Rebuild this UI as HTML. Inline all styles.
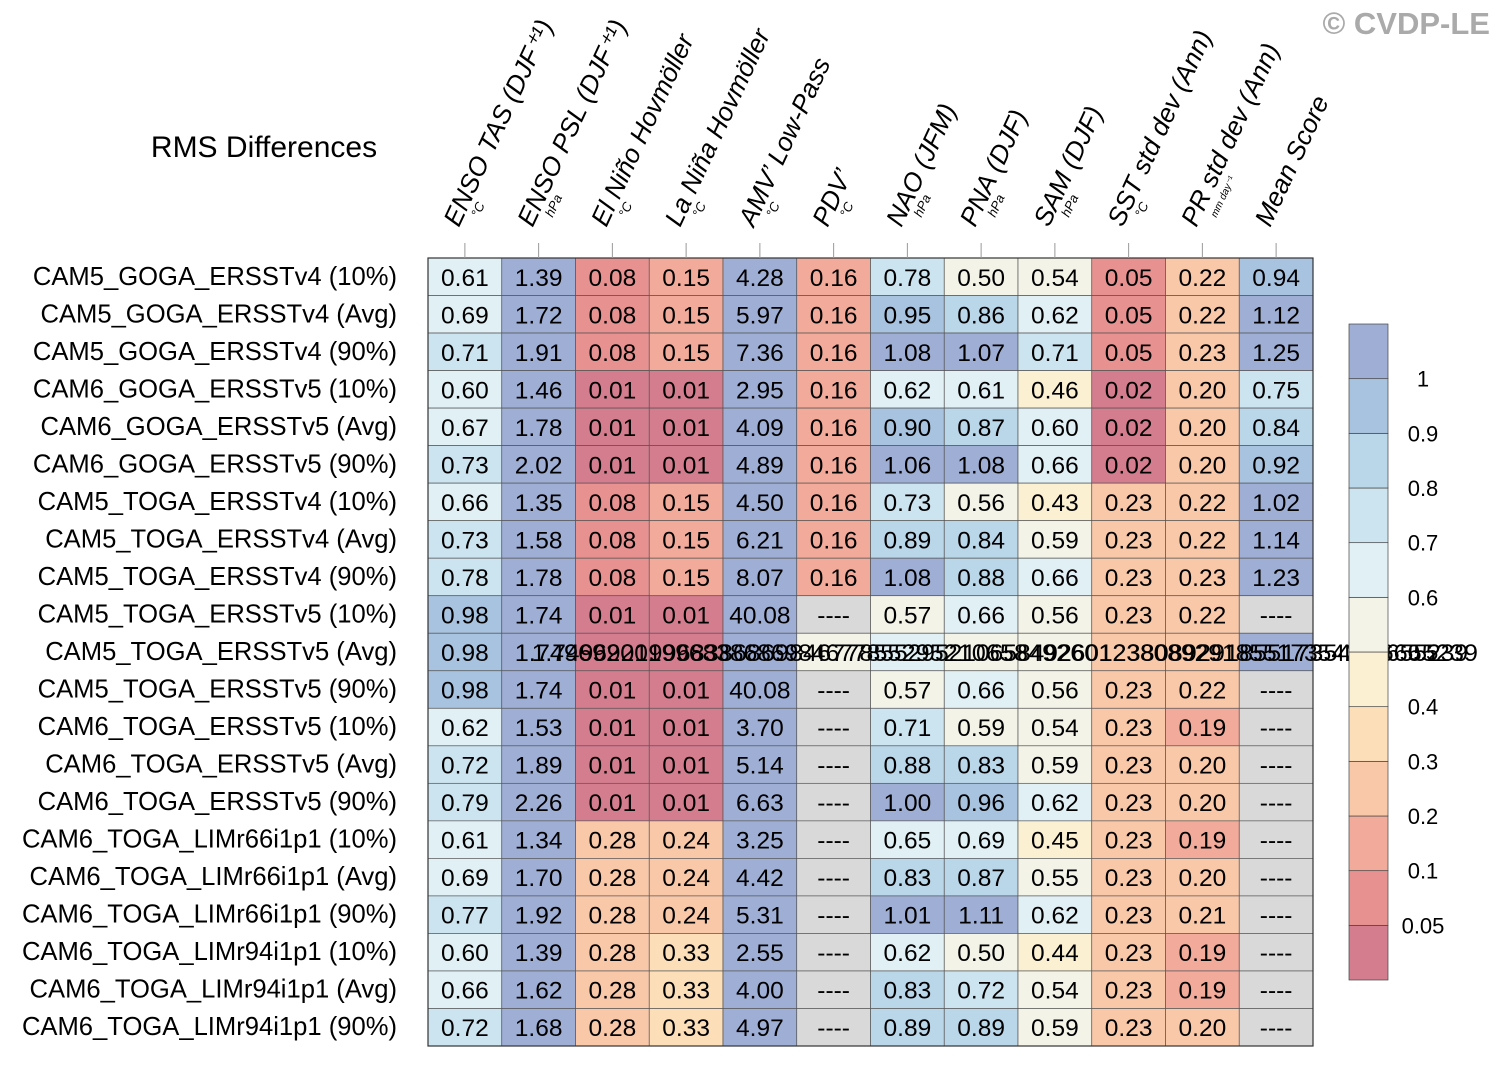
<!DOCTYPE html>
<html><head><meta charset="utf-8"><style>
body{margin:0;background:#fff;}
svg{display:block;font-family:"Liberation Sans",sans-serif;}
</style></head><body>
<svg id="c" width="1498" height="1067" viewBox="0 0 1498 1067">
<text x="264" y="157" font-size="30" text-anchor="middle">RMS Differences</text>
<text x="1490" y="34" font-size="31" font-weight="bold" fill="#aaa" text-anchor="end">© CVDP-LE</text>
<g id="g"></g>
</svg>
<script>
const columns=["ENSO TAS (DJF⁺¹)","ENSO PSL (DJF⁺¹)","El Niño Hovmöller","La Niña Hovmöller","AMV’ Low-Pass","PDV’","NAO (JFM)","PNA (DJF)","SAM (DJF)","SST std dev (Ann)","PR std dev (Ann)","Mean Score"];
const units=["°C","hPa","°C","°C","°C","°C","hPa","hPa","hPa","°C","mm day⁻¹",""];
const rowLabels=["CAM5_GOGA_ERSSTv4 (10%)","CAM5_GOGA_ERSSTv4 (Avg)","CAM5_GOGA_ERSSTv4 (90%)","CAM6_GOGA_ERSSTv5 (10%)","CAM6_GOGA_ERSSTv5 (Avg)","CAM6_GOGA_ERSSTv5 (90%)","CAM5_TOGA_ERSSTv4 (10%)","CAM5_TOGA_ERSSTv4 (Avg)","CAM5_TOGA_ERSSTv4 (90%)","CAM5_TOGA_ERSSTv5 (10%)","CAM5_TOGA_ERSSTv5 (Avg)","CAM5_TOGA_ERSSTv5 (90%)","CAM6_TOGA_ERSSTv5 (10%)","CAM6_TOGA_ERSSTv5 (Avg)","CAM6_TOGA_ERSSTv5 (90%)","CAM6_TOGA_LIMr66i1p1 (10%)","CAM6_TOGA_LIMr66i1p1 (Avg)","CAM6_TOGA_LIMr66i1p1 (90%)","CAM6_TOGA_LIMr94i1p1 (10%)","CAM6_TOGA_LIMr94i1p1 (Avg)","CAM6_TOGA_LIMr94i1p1 (90%)"];
const values=[
[0.61,1.39,0.08,0.15,4.28,0.16,0.78,0.50,0.54,0.05,0.22,0.94],
[0.69,1.72,0.08,0.15,5.97,0.16,0.95,0.86,0.62,0.05,0.22,1.12],
[0.71,1.91,0.08,0.15,7.36,0.16,1.08,1.07,0.71,0.05,0.23,1.25],
[0.60,1.46,0.01,0.01,2.95,0.16,0.62,0.61,0.46,0.02,0.20,0.75],
[0.67,1.78,0.01,0.01,4.09,0.16,0.90,0.87,0.60,0.02,0.20,0.84],
[0.73,2.02,0.01,0.01,4.89,0.16,1.06,1.08,0.66,0.02,0.20,0.92],
[0.66,1.35,0.08,0.15,4.50,0.16,0.73,0.56,0.43,0.23,0.22,1.02],
[0.73,1.58,0.08,0.15,6.21,0.16,0.89,0.84,0.59,0.23,0.22,1.14],
[0.78,1.78,0.08,0.15,8.07,0.16,1.08,0.88,0.66,0.23,0.23,1.23],
[0.98,1.74,0.01,0.01,40.08,null,0.57,0.66,0.56,0.23,0.22,null],
[0.98,1.74,0.01,0.01,40.08,0.57,0.66,0.56,0.56,0.23,0.23,1.0],
[0.98,1.74,0.01,0.01,40.08,null,0.57,0.66,0.56,0.23,0.22,null],
[0.62,1.53,0.01,0.01,3.70,null,0.71,0.59,0.54,0.23,0.19,null],
[0.72,1.89,0.01,0.01,5.14,null,0.88,0.83,0.59,0.23,0.20,null],
[0.79,2.26,0.01,0.01,6.63,null,1.00,0.96,0.62,0.23,0.20,null],
[0.61,1.34,0.28,0.24,3.25,null,0.65,0.69,0.45,0.23,0.19,null],
[0.69,1.70,0.28,0.24,4.42,null,0.83,0.87,0.55,0.23,0.20,null],
[0.77,1.92,0.28,0.24,5.31,null,1.01,1.11,0.62,0.23,0.21,null],
[0.60,1.39,0.28,0.33,2.55,null,0.62,0.50,0.44,0.23,0.19,null],
[0.66,1.62,0.28,0.33,4.00,null,0.83,0.72,0.54,0.23,0.19,null],
[0.72,1.68,0.28,0.33,4.97,null,0.89,0.89,0.59,0.23,0.20,null]];
const garbledRow=10;
const garbledText="1.7496920199683868698467785529521065849260123808929185517354206655239";
const garbledText2="1.7496920199683868698467785529521065849260123808929185517354206655239";
const levels=[0.05,0.1,0.2,0.3,0.4,0.5,0.6,0.7,0.8,0.9,1];
const levelLabels=["0.05","0.1","0.2","0.3","0.4","0.5","0.6","0.7","0.8","0.9","1"];
const palette=["#d47d8f","#e79290","#f2aa9a","#f9c8a9","#fcdfb9","#fcf0d3","#f4f3e7","#e1f0f5","#cce4ef","#bad6e9","#a8c3df","#9eaed4"];

const NS="http://www.w3.org/2000/svg",g=document.getElementById('g');
function el(t,a,p){const e=document.createElementNS(NS,t);for(const k in a)e.setAttribute(k,a[k]);(p||g).appendChild(e);return e;}
const X0=428,X1=1313,Y0=258,Y1=1046;
const nC=columns.length,nR=values.length;
const cw=(X1-X0)/nC,rh=(Y1-Y0)/nR;
const xOf=i=>X0+i*cw, yOf=j=>Y0+j*rh;
function colorOf(v){if(v==null)return "#d9d9d9";let k=0;while(k<levels.length&&v>=levels[k])k++;return palette[k];}
values.forEach((row,j)=>{
  const t=el('text',{x:397,y:yOf(j)+rh/2+8,'font-size':25.6,'text-anchor':'end'});
  
  
  t.textContent=rowLabels[j];
  row.forEach((v,i)=>{
    const r=el('rect',{x:xOf(i),y:yOf(j),width:cw,height:rh,fill:colorOf(v),stroke:'#555','stroke-width':0.7});
    
    
    if(j===garbledRow&&i>0)return;
    const tx=el('text',{x:xOf(i)+cw/2,y:yOf(j)+rh/2+9,'font-size':24.5,'text-anchor':'middle'});
    
    
    tx.textContent=v==null?'----':v.toFixed(2);
  });
});
el('rect',{x:X0,y:Y0,width:X1-X0,height:Y1-Y0,fill:'none',stroke:'#333','stroke-width':1.2});
const gt=el('text',{x:xOf(1)+13,y:yOf(garbledRow)+rh/2+9,'font-size':24.5,textLength:1478-xOf(1)-13,lengthAdjust:'spacingAndGlyphs'});


gt.textContent=garbledText;
const gt2=el('text',{x:xOf(1)+30,y:yOf(garbledRow)+rh/2+9,'font-size':24.5,textLength:1478-xOf(1)-40,lengthAdjust:'spacingAndGlyphs'});


gt2.textContent=garbledText2;
columns.forEach((c,i)=>{
  const cx=xOf(i)+cw/2;
  el('line',{x1:cx,y1:243,x2:cx,y2:Y0,stroke:'#999','stroke-width':1});
  const t=el('text',{transform:`translate(${cx-6},228) rotate(-65)`,'font-size':26,'font-style':'italic'});
  
  
  t.textContent=c;
  if(units[i]){const u=el('text',{transform:`translate(${cx+14},218) rotate(-65)`,'font-size':units[i].length>4?10:13,'font-style':'italic'});
  
  
  u.textContent=units[i];}
});
const CB0=324,CB1=980,cbX=1349,cbW=39,n=palette.length,bh=(CB1-CB0)/n;
palette.forEach((c,k)=>{
  const r=el('rect',{x:cbX,y:CB1-(k+1)*bh,width:cbW,height:bh,fill:c,stroke:'#444','stroke-width':0.7});
  
  
});
levelLabels.forEach((l,k)=>{
  const t=el('text',{x:1423,y:CB1-(k+1)*bh+8,'font-size':22,'text-anchor':'middle'});
  
  
  t.textContent=l;
});
</script>
</body></html>
